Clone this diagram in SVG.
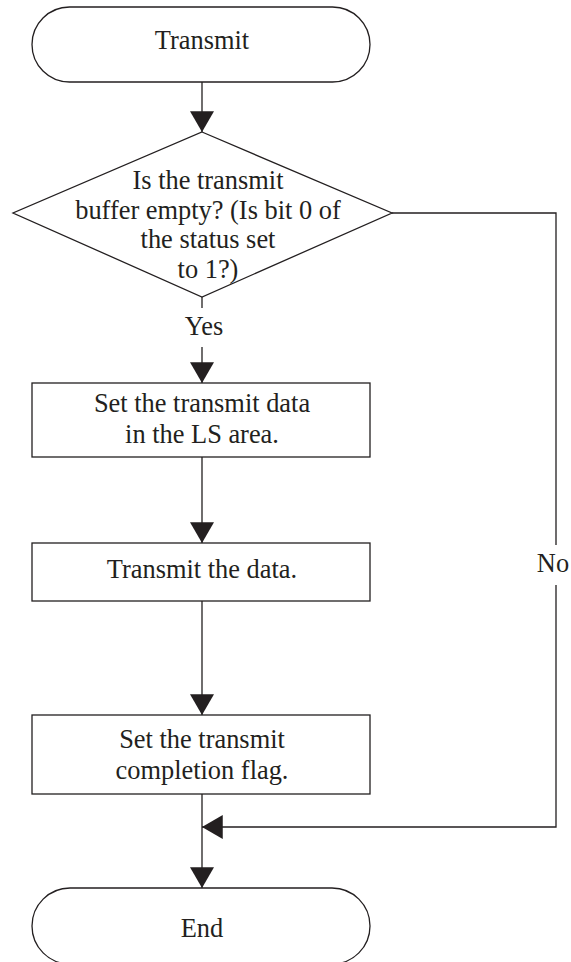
<svg xmlns="http://www.w3.org/2000/svg" width="571" height="962" viewBox="0 0 571 962">
<style>
.s{fill:#fff;stroke:#231f20;stroke-width:1.3}
.c{fill:none;stroke:#231f20;stroke-width:1.3}
.t{font-size:26.4px;fill:#231f20;text-anchor:middle}
</style>
<defs>
<marker id="ah" markerUnits="userSpaceOnUse" markerWidth="24" markerHeight="24" viewBox="0 0 20 22" refX="19" refY="11" orient="auto">
<path d="M0,0 L19,11 L0,22 Z" fill="#231f20"/>
</marker>
</defs>
<rect width="571" height="962" fill="#fff"/>
<g font-family="Liberation Serif, Tinos, Times New Roman, DejaVu Serif, serif">
<g id="connectors">
<line class="c" x1="202" y1="82" x2="202" y2="132" marker-end="url(#ah)"/>
<line class="c" x1="202" y1="297" x2="202" y2="308"/>
<line class="c" x1="202" y1="347" x2="202" y2="383" marker-end="url(#ah)"/>
<line class="c" x1="202" y1="457" x2="202" y2="543" marker-end="url(#ah)"/>
<line class="c" x1="202" y1="601" x2="202" y2="715" marker-end="url(#ah)"/>
<line class="c" x1="202" y1="794" x2="202" y2="888" marker-end="url(#ah)"/>
<polyline class="c" points="392,213 556,213 556,545"/>
<polyline class="c" points="556,585 556,827 202,827" marker-end="url(#ah)"/>
<text class="t" x="204" y="335">Yes</text>
<text class="t" x="553" y="572">No</text>
</g>
<g id="start">
<rect class="s" x="32" y="7" width="338" height="75" rx="37.5"/>
<text class="t" x="202" y="49">Transmit</text>
</g>
<g id="decision">
<polygon class="s" points="202,132 392,213 202,297 13,213"/>
<text class="t" x="208" y="189">Is the transmit</text>
<text class="t" x="208" y="218.5">buffer empty? (Is bit 0 of</text>
<text class="t" x="208" y="248">the status set</text>
<text class="t" x="208" y="277.5">to 1?)</text>
</g>
<g id="setdata">
<rect class="s" x="32" y="383" width="338" height="74"/>
<text class="t" x="202" y="411.5">Set the transmit data</text>
<text class="t" x="202" y="442.5">in the LS area.</text>
</g>
<g id="transmit">
<rect class="s" x="32" y="543" width="338" height="58"/>
<text class="t" x="202" y="578">Transmit the data.</text>
</g>
<g id="setflag">
<rect class="s" x="32" y="715" width="338" height="79"/>
<text class="t" x="202" y="748">Set the transmit</text>
<text class="t" x="202" y="779">completion flag.</text>
</g>
<g id="end">
<rect class="s" x="32" y="888" width="338" height="76" rx="38"/>
<text class="t" x="202" y="937">End</text>
</g>
</g>
</svg>
